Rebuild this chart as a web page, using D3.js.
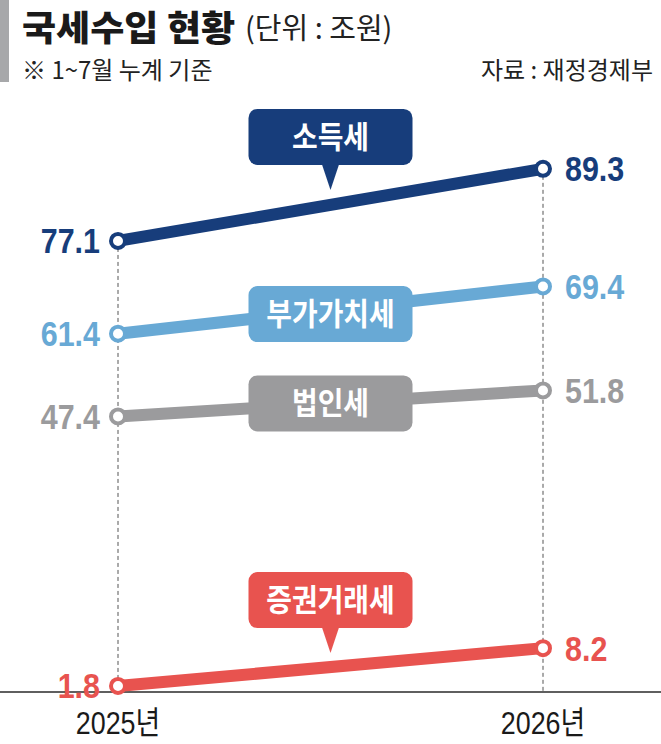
<!DOCTYPE html>
<html><head><meta charset="utf-8">
<script src="https://cdn.jsdelivr.net/npm/d3@7"></script>
<style>
html,body{margin:0;padding:0;background:#fff;}
svg{display:block;}
</style></head>
<body>
<script>
const years = ["2025년", "2026년"];
const seriesNames = ["소득세", "부가가치세", "법인세", "증권거래세"];
const incomeTax = [77.1, 89.3];
const vat = [61.4, 69.4];
const corporateTax = [47.4, 51.8];
const securitiesTax = [1.8, 8.2];
const seriesColors = ["#173d7b", "#68a9d5", "#9b9b9d", "#e8534f"];
const titleText = "국세수입 현황";
const unitText = "(단위 : 조원)";
const noteText = "※ 1~7월 누계 기준";
const sourceText = "자료 : 재정경제부";

const W = 661, H = 744;
const numFont = "'Liberation Sans','Noto Sans CJK KR',sans-serif";
const krFont = "'Noto Sans CJK KR',sans-serif";

const svg = d3.select("body").append("svg").attr("width", W).attr("height", H);

const x = d3.scalePoint().domain(years).range([118, 543]).padding(0);
const y = d3.scaleLinear().domain([0, 100]).range([696.6, 105.6]);

const data = [incomeTax, vat, corporateTax, securitiesTax].map((vals, i) => ({
  name: seriesNames[i], color: seriesColors[i],
  points: years.map((yr, j) => ({year: yr, value: vals[j]})),
  callout: (i === 0 || i === 3),
  offset: [-68, 4, 0, -67][i]
}));

// header
svg.append("rect").attr("x", 0).attr("y", 0).attr("width", 9).attr("height", 82).attr("fill", "#a7a8aa");
svg.append("text").attr("transform", "translate(22,40.8) scale(1.06,1)")
  .attr("font-family", krFont).attr("font-size", 35).attr("font-weight", 900).attr("fill", "#1a1a1a").text(titleText);
svg.append("text").attr("transform", "translate(245,38.5)")
  .attr("font-family", krFont).attr("font-size", 29).attr("font-weight", 400).attr("fill", "#222").text(unitText);
svg.append("text").attr("x", 22).attr("y", 79).attr("font-family", krFont).attr("font-size", 24).attr("fill", "#222").text(noteText);
svg.append("text").attr("x", 653).attr("y", 79).attr("text-anchor", "end").attr("font-family", krFont).attr("font-size", 24).attr("fill", "#222").text(sourceText);

// dashed guides
const axisY = 692;
years.forEach(yr => {
  const top = d3.max(data, d => d.points.find(p => p.year === yr).value);
  svg.append("line").attr("x1", x(yr)).attr("x2", x(yr)).attr("y1", y(top)).attr("y2", axisY)
    .attr("stroke", "#555").attr("stroke-width", 1).attr("stroke-dasharray", "4,3");
});

// axis line
svg.append("line").attr("x1", 0).attr("x2", W).attr("y1", axisY).attr("y2", axisY).attr("stroke", "#2a2a2a").attr("stroke-width", 1.5);

// x labels
svg.selectAll(".xl").data(years).enter().append("text")
  .attr("transform", d => `translate(${x(d)},734) scale(0.84,1)`).attr("text-anchor", "middle")
  .attr("font-family", numFont).attr("font-size", 32).attr("fill", "#1a1a1a").text(d => d);

const line = d3.line().x(p => x(p.year)).y(p => y(p.value));

data.forEach(s => {
  const g = svg.append("g");
  g.append("path").attr("d", line(s.points)).attr("fill", "none").attr("stroke", s.color).attr("stroke-width", 12);
  const p0 = s.points[0], p1 = s.points[1];
  const cx = (x(p0.year) + x(p1.year)) / 2;
  const midY = (y(p0.value) + y(p1.value)) / 2;
  const cy = midY + s.offset;
  const bw = 164, bh = 56;
  if (s.callout) {
    g.append("path").attr("d", `M${cx - 9},${cy + bh / 2 - 2} L${cx + 9},${cy + bh / 2 - 2} L${cx},${cy + bh / 2 + 25} Z`).attr("fill", s.color);
  }
  g.append("rect").attr("x", cx - bw / 2).attr("y", cy - bh / 2).attr("width", bw).attr("height", bh)
    .attr("rx", 9).attr("fill", s.color);
  g.append("text").attr("transform", `translate(${cx},${cy + 11}) scale(0.9,1)`).attr("text-anchor", "middle")
    .attr("font-family", krFont).attr("font-weight", 700).attr("font-size", 31).attr("fill", "#fff").text(s.name);
  g.selectAll("circle").data(s.points).enter().append("circle")
    .attr("cx", p => x(p.year)).attr("cy", p => y(p.value)).attr("r", 7)
    .attr("fill", "#fff").attr("stroke", s.color).attr("stroke-width", 4);
  g.selectAll(".vl").data(s.points).enter().append("text")
    .attr("transform", (p, j) => `translate(${j === 0 ? x(p.year) - 18 : x(p.year) + 22},${y(p.value) + 12.5}) scale(0.87,1)`)
    .attr("text-anchor", (p, j) => j === 0 ? "end" : "start")
    .attr("font-family", numFont).attr("font-weight", 700).attr("font-size", 35)
    .attr("fill", s.color).text(p => p.value.toFixed(1));
});
</script>
</body></html>
